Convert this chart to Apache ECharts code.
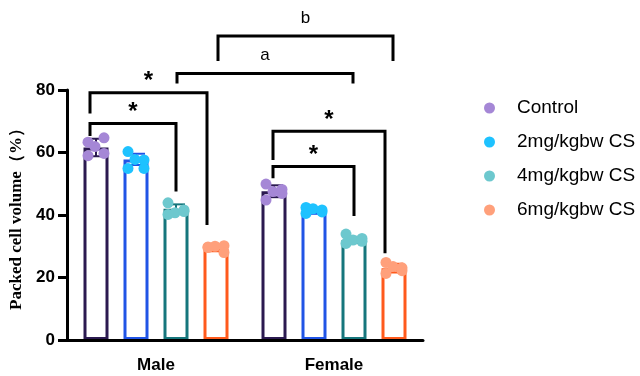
<!DOCTYPE html>
<html>
<head>
<meta charset="utf-8">
<script src="https://cdn.jsdelivr.net/npm/echarts@6/dist/echarts.min.js"></script>
<style>
  html, body { margin: 0; padding: 0; background: #fff; }
  #chart { width: 640px; height: 376px; }
</style>
</head>
<body>
<div id="chart"></div>
<script>
// categories and groups
const categories = ["Male", "Female"];
const groups = ["Control", "2mg/kgbw CS", "4mg/kgbw CS", "6mg/kgbw CS"];

// bar heights (mean) per sex, and SD
const controlMean = [61.6, 47.6];
const cs2Mean = [57.8, 41.2];
const cs4Mean = [42.0, 32.0];
const cs6Mean = [29.2, 23.0];
const controlSd = [2.8, 1.9];
const cs2Sd = [1.8, 0.8];
const cs4Sd = [1.4, 1.0];
const cs6Sd = [0.8, 1.4];

// individual animals
const controlPts = [[63.3, 61.9, 64.7, 59.0, 59.7], [49.9, 47.5, 46.9, 44.8, 48.2]];
const cs2Pts = [[60.3, 57.8, 54.9, 54.9, 57.6], [42.4, 42.0, 41.0, 40.5, 41.6]];
const cs4Pts = [[43.9, 40.7, 41.1, 40.2, 41.6], [33.9, 32.0, 32.5, 30.9, 31.6]];
const cs6Pts = [[29.6, 30.0, 30.2, 29.8, 28.0], [24.8, 23.5, 22.2, 21.3, 23.1]];

// significance brackets: [sexA, groupA, sexB, groupB, top, leftEnd, rightEnd]
const brackets = [
    [0, 0, 0, 2, 69.3, 65.3, 47.5],
    [0, 0, 0, 3, 79.1, 72.5, 36.8],
    [0, 2, 1, 2, 85.3, 82.1, 82.1],
    [0, 3, 1, 3, 97.3, 89.3, 89.3],
    [1, 0, 1, 2, 55.5, 51.8, 39.7],
    [1, 0, 1, 3, 66.8, 57.6, 27.8]
];
const bracketLabels = ["*", "*", "a", "b", "*", "*"];

const means = [controlMean, cs2Mean, cs4Mean, cs6Mean];
const sds = [controlSd, cs2Sd, cs4Sd, cs6Sd];
const points = [controlPts, cs2Pts, cs4Pts, cs6Pts];

const barColors = ["#2b1a50", "#2054e6", "#16767c", "#ff5a1c"];
const dotColors = ["#a587d6", "#1ec2ff", "#6dc8ce", "#ffa07b"];
const font = "Liberation Sans, Arial, sans-serif";

// layout (px)
const gridLeft = 67, gridRight = 217;
const barWidth = 25, barGap = 0.6;
const catWidth = (640 - gridLeft - gridRight) / categories.length;
const pitch = barWidth * (1 + barGap);
const jitter = [-8, -1, 8, -8, 8];
const legNudge = [[-6, 0], [-6, -9], [1, -1], [2, -1], [-1, 0], [-1, -9]];

// position of a bar centre on the hidden value x axis
function barX(sex, g) {
    return sex + 0.5 + (g - 1.5) * pitch / catWidth;
}

let chart = echarts.init(document.getElementById("chart"));

let series = [];
groups.forEach((name, g) => {
    series.push({
        name: name + " bar",
        type: "bar",
        data: means[g],
        barWidth: barWidth,
        barGap: (barGap * 100) + "%",
        itemStyle: {
            color: "rgba(255,255,255,0)",
            borderColor: barColors[g],
            borderWidth: 3
        }
    });
});
groups.forEach((name, g) => {
    series.push({
        type: "custom",
        xAxisIndex: 1,
        data: categories.map((c, s) => [barX(s, g), means[g][s], sds[g][s]]),
        renderItem: function (params, api) {
            let hi = api.coord([api.value(0), api.value(1) + api.value(2)]);
            let lo = api.coord([api.value(0), api.value(1) - api.value(2)]);
            let st = { stroke: barColors[g], lineWidth: 2 };
            return {
                type: "group",
                children: [
                    { type: "line", shape: { x1: hi[0], y1: hi[1], x2: lo[0], y2: lo[1] }, style: st },
                    { type: "line", shape: { x1: hi[0] - 9, y1: hi[1], x2: hi[0] + 9, y2: hi[1] }, style: st },
                    { type: "line", shape: { x1: lo[0] - 9, y1: lo[1], x2: lo[0] + 9, y2: lo[1] }, style: st }
                ]
            };
        }
    });
});
groups.forEach((name, g) => {
    let data = [];
    points[g].forEach((vals, s) => {
        vals.forEach((v, i) => data.push([barX(s, g) + jitter[i] / catWidth, v]));
    });
    series.push({
        name: name,
        type: "scatter",
        xAxisIndex: 1,
        data: data,
        symbolSize: 11,
        itemStyle: { color: dotColors[g], opacity: 1 }
    });
});
series.push({
    type: "custom",
    xAxisIndex: 1,
    z: 5,
    data: brackets.map(b => [barX(b[0], b[1]), barX(b[2], b[3]), b[4], b[5], b[6]]),
    renderItem: function (params, api) {
        let i = params.dataIndex;
        let l = api.coord([api.value(0), api.value(2)]);
        let r = api.coord([api.value(1), api.value(2)]);
        let lb = api.coord([api.value(0), api.value(3)]);
        let rb = api.coord([api.value(1), api.value(4)]);
        let x1 = l[0] + legNudge[i][0], x2 = r[0] + legNudge[i][1];
        let lab = bracketLabels[i];
        let star = lab === "*";
        return {
            type: "group",
            children: [
                {
                    type: "polyline",
                    shape: { points: [[x1, lb[1]], [x1, l[1]], [x2, r[1]], [x2, rb[1]]] },
                    style: { stroke: "#000", lineWidth: 3, fill: null, lineJoin: "miter" }
                },
                {
                    type: "text",
                    style: {
                        x: (x1 + x2) / 2,
                        y: l[1] - (star ? 11 : 18),
                        text: lab,
                        fill: "#000",
                        font: (star ? "bold 24px " : "17px ") + font,
                        align: "center",
                        verticalAlign: "middle"
                    }
                }
            ]
        };
    }
});

let option = {
    animation: false,
    grid: { left: gridLeft, right: gridRight, top: 90, bottom: 36 },
    legend: {
        data: groups,
        orient: "vertical",
        left: 479,
        top: 93,
        icon: "circle",
        itemWidth: 45,
        itemHeight: 11,
        itemGap: 14,
        selectedMode: false,
        textStyle: { fontSize: 19, color: "#000", fontFamily: font, lineHeight: 20 }
    },
    xAxis: [
        {
            type: "category",
            data: categories,
            z: 10,
            axisLine: { lineStyle: { color: "#000", width: 3 } },
            axisTick: { alignWithLabel: true, length: 7, lineStyle: { color: "#000", width: 2.5 } },
            axisLabel: { color: "#000", fontSize: 17, fontWeight: "bold", fontFamily: font, margin: 17 }
        },
        { type: "value", min: 0, max: categories.length, show: false }
    ],
    yAxis: {
        type: "value",
        min: 0,
        max: 80,
        interval: 20,
        name: "Packed cell volume（%）",
        nameLocation: "middle",
        nameRotate: 90,
        nameGap: 39,
        nameTextStyle: { color: "#000", fontSize: 17, fontWeight: "bold", fontFamily: "Liberation Serif, Times New Roman, serif" },
        axisLine: { show: true, lineStyle: { color: "#000", width: 3 } },
        axisTick: { show: true, length: 9, lineStyle: { color: "#000", width: 3 } },
        splitLine: { show: false },
        axisLabel: { color: "#000", fontSize: 17, fontWeight: "bold", fontFamily: font, margin: 12 }
    },
    series: series
};
chart.setOption(option);
</script>
</body>
</html>
